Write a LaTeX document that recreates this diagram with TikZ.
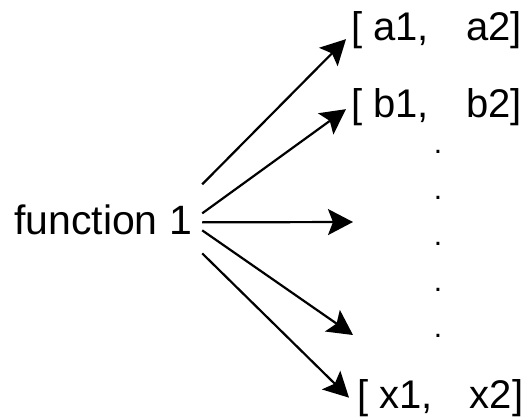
\documentclass[tikz,border=0pt]{standalone}
\usepackage{fontspec}
\setmainfont{Liberation Sans}
\usetikzlibrary{arrows.meta, calc}

\begin{document}
\begin{tikzpicture}[
    x=1pt, y=-1pt,
    >={Stealth[length=25pt, width=26pt, inset=5pt]},
    fnlab/.style={inner sep=0pt, anchor=base west, font=\fontsize{41pt}{48pt}\selectfont},
    pairlab/.style={inner sep=0pt, anchor=base west, font=\fontsize{40pt}{47pt}\selectfont},
    dotlab/.style={inner sep=0pt, anchor=base, font=\fontsize{30pt}{35pt}\selectfont},
    conn/.style={->, line width=2.2pt, color=black},
]
\useasboundingbox (0,0) rectangle (524,418);

% Function
\node[fnlab] (fn) at (14,234) {function 1};

% Results
\node[pairlab] (pa) at (351,40.5) {[ a1,\hspace{37pt}a2]};
\node[pairlab] (pb) at (351,117.5) {[ b1,\hspace{37pt}b2]};
\node[pairlab] (px) at (357,408) {[ x1,\hspace{37pt}x2]};

% Vertical dots
\node[dotlab] (d1) at (438,153.5) {.};
\node[dotlab] (d2) at (438,199.5) {.};
\node[dotlab] (d3) at (438,245.5) {.};
\node[dotlab] (d4) at (438,291.5) {.};
\node[dotlab] (d5) at (438,337.5) {.};

% Free ends
\coordinate (mid) at (353,222);
\coordinate (low) at (353,335);

% Arrows
\draw[conn] ($(fn.east)+(10,-35)$) -- ($(pa.west)+(-5,9)$);
\draw[conn] ($(fn.east)+(10,-6)$) -- ($(pb.west)+(-5,2)$);
\draw[conn] ($(fn.east)+(10,3)$) -- (mid);
\draw[conn] ($(fn.east)+(10,11)$) -- (low);
\draw[conn] ($(fn.east)+(10,34)$) -- ($(px.west)+(-8,0)$);

\end{tikzpicture}
\end{document}
